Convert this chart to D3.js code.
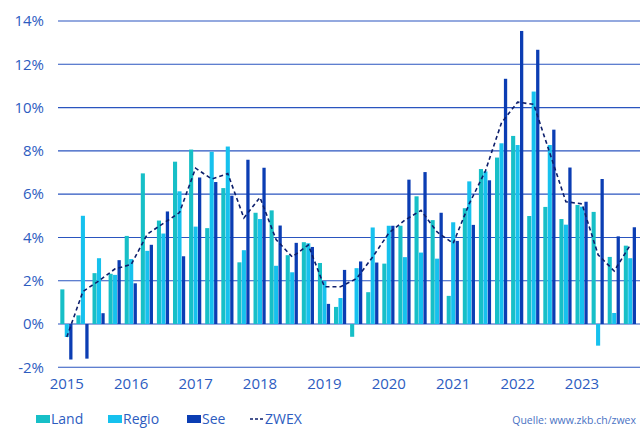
<!DOCTYPE html>
<html>
<head>
<meta charset="utf-8">
<script src="https://cdn.jsdelivr.net/npm/d3@7"></script>
<style>
  html, body { margin: 0; padding: 0; background: #fff; }
  svg { display: block; font-family: "Open Sans", sans-serif; }
</style>
</head>
<body>
<div id="chart"></div>
<script>
// quarters 2015 Q1 .. 2023 Q4
var quarters = [];
for (var y = 2015; y <= 2023; y++) {
    for (var q = 1; q <= 4; q++) quarters.push(y + '-Q' + q);
}

var land = [1.6, 0.4, 2.35, 2.32, 4.07, 6.96, 4.78, 7.5, 8.06, 4.43, 6.28, 2.85,
            5.14, 5.25, 3.18, 3.78, 2.82, 0.79, -0.59, 1.47, 2.79, 4.54, 5.9, 4.8,
            1.3, 5.35, 7.16, 7.69, 8.69, 4.99, 5.41, 4.85, 5.5, 5.18, 3.1, 3.62];
var regio = [-0.6, 5.0, 3.04, 2.27, 3.0, 3.38, 4.18, 6.13, 4.5, 7.96, 8.2, 3.41,
             4.85, 2.69, 2.39, 3.73, 1.99, 1.2, 2.58, 4.46, 4.54, 3.09, 3.3, 3.02,
             4.7, 6.59, 7.05, 8.35, 8.27, 10.74, 8.27, 4.59, 5.42, -1.0, 0.51, 3.04];
var see = [-1.64, -1.6, 0.5, 2.95, 1.88, 3.66, 5.2, 3.13, 6.77, 6.56, 5.93, 7.59,
           7.22, 4.55, 3.75, 3.56, 0.93, 2.5, 2.89, 2.84, 4.54, 6.67, 7.02, 5.14,
           3.84, 4.58, 6.64, 11.33, 13.54, 12.67, 8.98, 7.23, 5.65, 6.7, 4.05, 4.47];
var zwex = [-0.6, 1.5, 2.0, 2.55, 2.75, 4.15, 4.65, 5.15, 7.2, 6.7, 6.95, 4.9,
            5.85, 3.9, 3.1, 3.65, 1.72, 1.72, 2.1, 3.1, 4.2, 4.8, 5.25, 4.25,
            3.73, 5.56, 7.07, 9.3, 10.25, 10.15, 7.9, 5.65, 5.55, 3.2, 2.45, 3.65];

var seriesNames = ['Land', 'Regio', 'See'];
var yTicks = [-2, 0, 2, 4, 6, 8, 10, 12, 14];
var yearLabels = ['2015', '2016', '2017', '2018', '2019', '2020', '2021', '2022', '2023'];

var colors = { Land: '#17bfc7', Regio: '#16c1ee', See: '#0b3db3' };
var textColor = '#2d5cbf';

var width = 640, height = 428;

var svg = d3.select('#chart').append('svg')
    .attr('width', width)
    .attr('height', height);

var scaleX = d3.scaleBand()
    .domain(quarters)
    .range([58, 639.1])
    .paddingInner(0.193)
    .paddingOuter(0.143);

var scaleSub = d3.scaleBand()
    .domain(seriesNames)
    .range([0, scaleX.bandwidth()])
    .paddingInner(0.08);

var scaleY = d3.scaleLinear().domain([-2, 14]).range([367.3, 21]);

// grid
svg.append('g').attr('class', 'grid')
    .selectAll('line').data(yTicks).enter().append('line')
    .attr('x1', 58).attr('x2', width)
    .attr('y1', function (d) { return scaleY(d); })
    .attr('y2', function (d) { return scaleY(d); })
    .attr('stroke', '#2a55bf')
    .attr('stroke-width', 1.1);

// y axis labels
var yAxis = d3.axisLeft(scaleY)
    .tickValues(yTicks)
    .tickSize(0)
    .tickPadding(0)
    .tickFormat(function (d) { return d + '%'; });

var gy = svg.append('g').attr('transform', 'translate(44, 0)').call(yAxis);
gy.select('.domain').remove();
gy.selectAll('text')
    .attr('fill', textColor)
    .style('font-size', '15px')
    .style('font-family', '"Open Sans", sans-serif');

// bars
var rows = quarters.map(function (q, i) {
    return { q: q, Land: land[i], Regio: regio[i], See: see[i] };
});

var groups = svg.append('g').selectAll('g').data(rows).enter().append('g')
    .attr('transform', function (d) { return 'translate(' + scaleX(d.q) + ',0)'; });

groups.selectAll('rect')
    .data(function (d) { return seriesNames.map(function (k) { return { key: k, value: d[k] }; }); })
    .enter().append('rect')
    .attr('x', function (d) { return scaleSub(d.key); })
    .attr('width', function (d) { return d.key === 'See' ? scaleSub.bandwidth() * 0.8 : scaleSub.bandwidth(); })
    .attr('y', function (d) { return scaleY(Math.max(0, d.value)); })
    .attr('height', function (d) { return Math.abs(scaleY(d.value) - scaleY(0)); })
    .attr('fill', function (d) { return colors[d.key]; });

// zwex line
var line = d3.line()
    .x(function (d, i) { return scaleX(quarters[i]) + scaleX.bandwidth() / 2; })
    .y(function (d) { return scaleY(d); });

svg.append('path')
    .datum(zwex)
    .attr('d', line)
    .attr('fill', 'none')
    .attr('stroke', '#0d1f6c')
    .attr('stroke-width', 1.6)
    .attr('stroke-dasharray', '4,3');

// x axis year labels (centered on Q1)
var xAxis = d3.axisBottom(scaleX)
    .tickValues(yearLabels.map(function (y) { return y + '-Q1'; }))
    .tickSize(0)
    .tickPadding(0)
    .tickFormat(function (d) { return d.slice(0, 4); });

var gx = svg.append('g').attr('transform', 'translate(0, 378)').call(xAxis);
gx.select('.domain').remove();
gx.selectAll('text')
    .attr('fill', textColor)
    .style('font-size', '15px')
    .style('font-family', '"Open Sans", sans-serif');

// legend
var legendItems = [
    { name: 'Land', x: 36 },
    { name: 'Regio', x: 108 },
    { name: 'See', x: 187 }
];
var legend = svg.append('g');
legendItems.forEach(function (it) {
    legend.append('rect')
        .attr('x', it.x).attr('y', 415)
        .attr('width', 14).attr('height', 8)
        .attr('fill', colors[it.name]);
    legend.append('text')
        .attr('x', it.x + 15).attr('y', 424)
        .attr('fill', textColor)
        .style('font-size', '14px')
        .text(it.name);
});
legend.append('line')
    .attr('x1', 250).attr('x2', 264)
    .attr('y1', 419).attr('y2', 419)
    .attr('stroke', '#0d1f6c')
    .attr('stroke-width', 1.5)
    .attr('stroke-dasharray', '3,2');
legend.append('text')
    .attr('x', 265).attr('y', 424)
    .attr('fill', textColor)
    .style('font-size', '14px')
    .text('ZWEX');

svg.append('text')
    .attr('x', 636).attr('y', 424)
    .attr('text-anchor', 'end')
    .attr('fill', '#4a72c4')
    .style('font-size', '10.5px')
    .text('Quelle: www.zkb.ch/zwex');
</script>
</body>
</html>
